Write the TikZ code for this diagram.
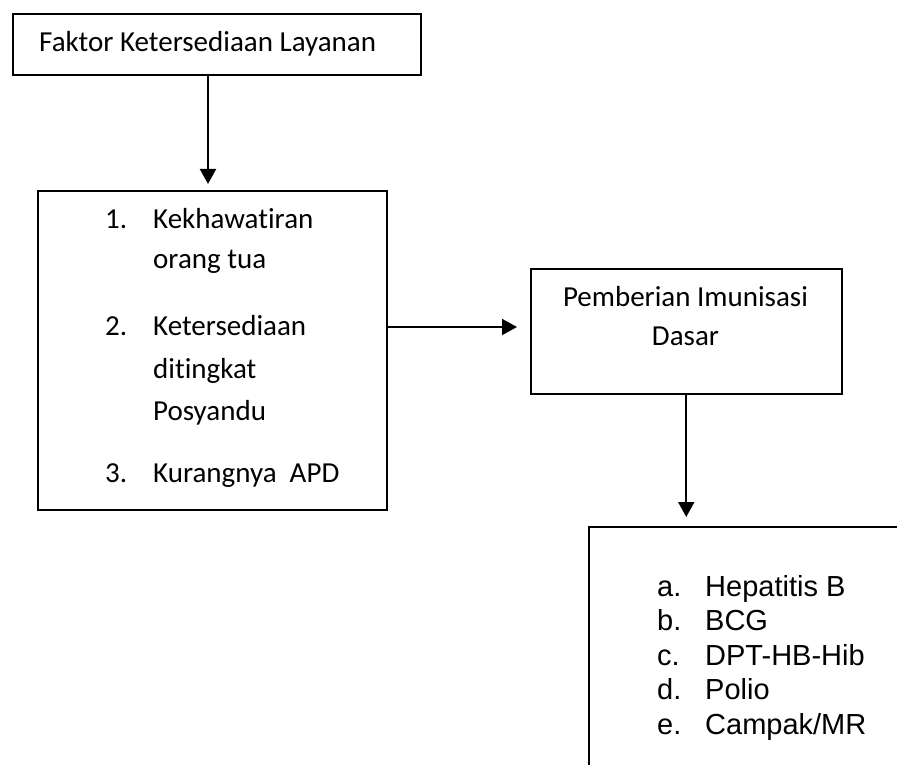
\documentclass[tikz,border=0pt]{standalone}
\usepackage{fontspec}
\setmainfont{Carlito}[Ligatures=NoCommon, Contextuals=NoAlternate]
\newfontfamily\arialfont{Liberation Sans}
\usetikzlibrary{arrows.meta, positioning, calc}

\begin{document}
\begin{tikzpicture}[x=1pt, y=-1pt, line cap=round,
        box/.style={draw, anchor=north west, inner sep=0pt, line width=1.5pt},
        txt/.style={anchor=base west, inner sep=0pt, font=\fontsize{29}{35}\selectfont},
        mid/.style={anchor=base, inner sep=0pt, font=\fontsize{29}{35}\selectfont},
        vaksin/.style={anchor=base west, inner sep=0pt, font=\arialfont\fontsize{29}{35}\selectfont},
        arr/.style={-{Triangle[length=15pt,width=16pt]}, line width=2pt}]
    \useasboundingbox (0,0) rectangle (897,765);
    \clip (0,0) rectangle (897,765);

    % boxes
    \node[box, line width=2.4pt, minimum width=408pt, minimum height=61pt] (faktor) at (12,13) {};
    \node[box, line width=2pt, minimum width=349pt, minimum height=319pt] (kendala) at (37,190) {};
    \node[box, minimum width=311pt, minimum height=125pt] (imunisasi) at (530,268) {};
    \node[box, minimum width=400pt, minimum height=300pt] (jenis) at (588,526) {};

    % texts
    \node[txt] (judul) at (39,52) {Faktor Ketersediaan Layanan};

    \node[txt] (no1) at (105,228) {1.};
    \node[txt] (k1a) at (153,228) {Kekhawatiran};
    \node[txt] (k1b) at (153,268) {orang tua};
    \node[txt] (no2) at (105,335) {2.};
    \node[txt] (k2a) at (153,335) {Ketersediaan};
    \node[txt] (k2b) at (153,378) {ditingkat};
    \node[txt] (k2c) at (153,420) {Posyandu};
    \node[txt] (no3) at (105,482) {3.};
    \node[txt] (k3a) at (153,482) {Kurangnya\ \ APD};

    \node[mid] (p1) at (685.5,306) {Pemberian Imunisasi};
    \node[mid] (p2) at (685.5,345) {Dasar};

    \foreach \h/\v [count=\i] in {a./Hepatitis B, b./BCG, c./DPT-HB-Hib, d./Polio, e./{Campak/MR}} {
        \node[vaksin] (vh\i) at (657,{561.5+34.5*\i}) {\h};
        \node[vaksin] (vn\i) at (705,{561.5+34.5*\i}) {\v};
    }

    % arrows
    \coordinate (xa) at (208,0);
    \coordinate (ym) at (0,327);
    \draw[arr, shorten >=6pt] (faktor.south -| xa) -- (kendala.north -| xa);
    \draw[arr, shorten >=13pt] (kendala.east |- ym) -- (imunisasi.west |- ym);
    \draw[arr, shorten >=9pt] (imunisasi.south) -- (imunisasi.south |- jenis.north);
\end{tikzpicture}
\end{document}
